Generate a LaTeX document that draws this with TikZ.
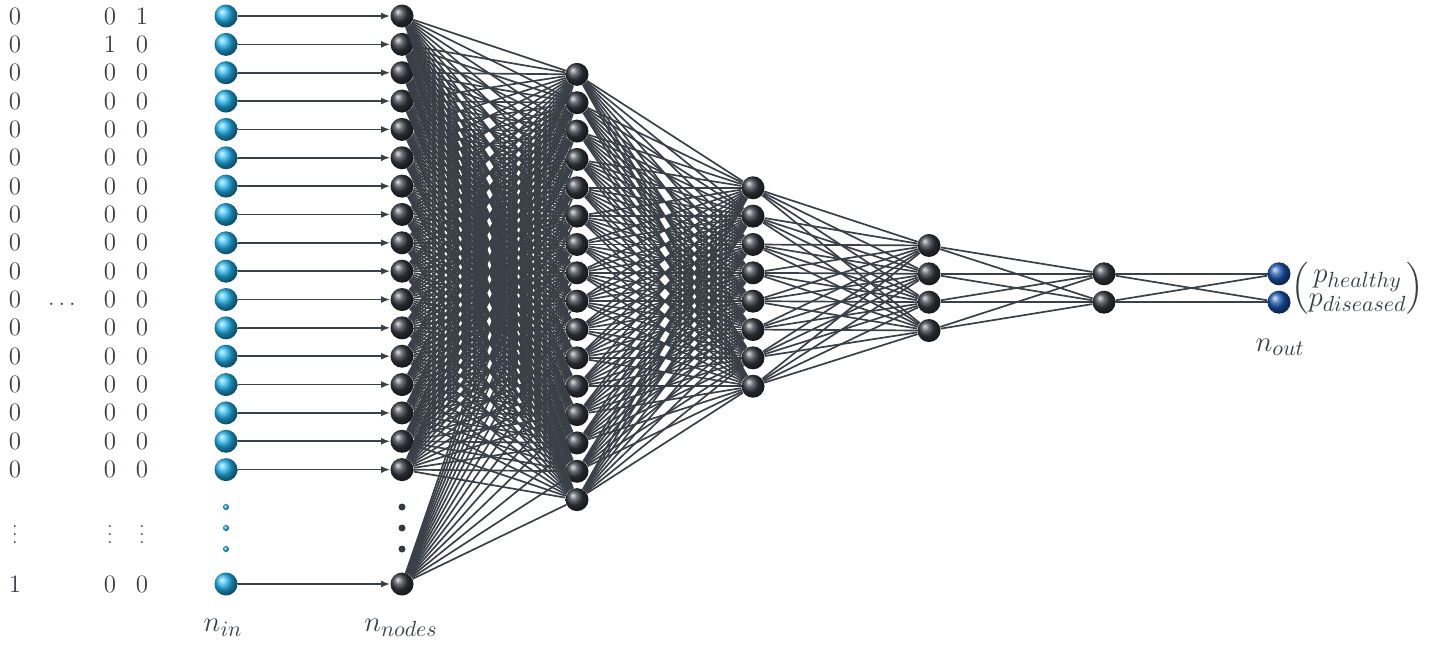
\documentclass[tikz,border=0pt]{standalone}
\usepackage{amsmath}
\usetikzlibrary{arrows.meta}
\definecolor{incyan}{HTML}{22B4EE}
\definecolor{hidgray}{HTML}{353A42}
\definecolor{outblue}{HTML}{1A56B0}
\definecolor{wiregray}{HTML}{3B4048}
\definecolor{txtgray}{HTML}{3A3F46}
\DeclareMathSizes{14.4}{14.4}{11}{8}
\begin{document}
\begin{tikzpicture}[x=0.5pt,y=-0.5pt]
\tikzstyle{inball} = [circle, minimum size=11.5pt, inner sep=0pt, ball color=incyan] % input neuron
\tikzstyle{hidball} = [circle, minimum size=11.5pt, inner sep=0pt, ball color=hidgray] % hidden neuron
\tikzstyle{outball} = [circle, minimum size=11.5pt, inner sep=0pt, ball color=outblue] % output neuron
\tikzstyle{indot} = [circle, minimum size=3pt, inner sep=0pt, ball color=incyan] % dots in input column
\tikzstyle{hiddot} = [circle, minimum size=3.5pt, inner sep=0pt, fill=hidgray] % dots in hidden column
\tikzstyle{wire} = [draw=wiregray, line width=0.85pt] % connection
\tikzstyle{digit} = [inner sep=0pt, text=txtgray, font=\fontsize{12.5}{14}\selectfont] % one-hot entries
\tikzstyle{lbl} = [inner sep=0pt, text=txtgray, font=\fontsize{14.4}{16}\selectfont] % layer labels
\useasboundingbox (0,0) rectangle (1440,645);
% input column and first hidden layer
\foreach \k [evaluate=\k as \yy using 16+28.35*(\k-1)] in {1,...,17} {
  \node[inball] (i\k) at (226,\yy) {};
  \node[hidball] (a\k) at (402,\yy) {};
  \node[digit] (p\k) at (15,\yy) {0};
  \node[digit] (q\k) at (110,\yy) {\ifnum\k=2 1\else 0\fi};
  \node[digit] (r\k) at (142,\yy) {\ifnum\k=1 1\else 0\fi};
}
\node[inball] (i18) at (226,584) {};
\node[hidball] (a18) at (402,584) {};
\node[digit] (p18) at (15,584) {1};
\node[digit] (q18) at (110,584) {0};
\node[digit] (r18) at (142,584) {0};
\node[digit] (hdots) at (62,304) {$\ldots$};
\node[digit, font=\fontsize{9}{10}\selectfont] (pv) at (15,529) {$\vdots$};
\node[digit, font=\fontsize{9}{10}\selectfont] (qv) at (110,529) {$\vdots$};
\node[digit, font=\fontsize{9}{10}\selectfont] (rv) at (142,529) {$\vdots$};
\foreach \y [count=\j] in {507,528,549} {
  \node[indot] (idot\j) at (226,\y) {};
  \node[hiddot] (adot\j) at (402,\y) {};
}
% deeper layers
\foreach \k [evaluate=\k as \yy using 287+28.35*(\k-8.5)] in {1,...,16}
  \node[hidball] (b\k) at (577,\yy) {};
\foreach \k [evaluate=\k as \yy using 287+28.35*(\k-4.5)] in {1,...,8}
  \node[hidball] (c\k) at (753,\yy) {};
\foreach \k [evaluate=\k as \yy using 288+28.35*(\k-2.5)] in {1,...,4}
  \node[hidball] (d\k) at (929,\yy) {};
\foreach \k [evaluate=\k as \yy using 288+28.35*(\k-1.5)] in {1,2} {
  \node[hidball] (e\k) at (1104,\yy) {};
  \node[outball] (o\k) at (1279,\yy) {};
}
% connections
\foreach \k in {1,...,18}
  \draw[wire, -{Latex[length=4.5pt,width=3.5pt]}] (i\k) -- (a\k);
\foreach \k in {1,...,18}
  \foreach \m in {1,...,16}
    \draw[wire] (a\k) -- (b\m);
\foreach \k in {1,...,16}
  \foreach \m in {1,...,8}
    \draw[wire] (b\k) -- (c\m);
\foreach \k in {1,...,8}
  \foreach \m in {1,...,4}
    \draw[wire] (c\k) -- (d\m);
\foreach \k in {1,...,4}
  \foreach \m in {1,2}
    \draw[wire] (d\k) -- (e\m);
\foreach \k in {1,2}
  \foreach \m in {1,2}
    \draw[wire] (e\k) -- (o\m);
% labels
\node[lbl] (nin) at (223,628) {$n_{in}$};
\node[lbl] (nnodes) at (401,628) {$n_{nodes}$};
\node[lbl] (nout) at (1280,347) {$n_{out}$};
\node[lbl, anchor=west] (pvec) at (1291,288) {$\left(\begin{matrix}p_{healthy}\\[-4pt] p_{diseased}\end{matrix}\right)$};
\end{tikzpicture}
\end{document}
